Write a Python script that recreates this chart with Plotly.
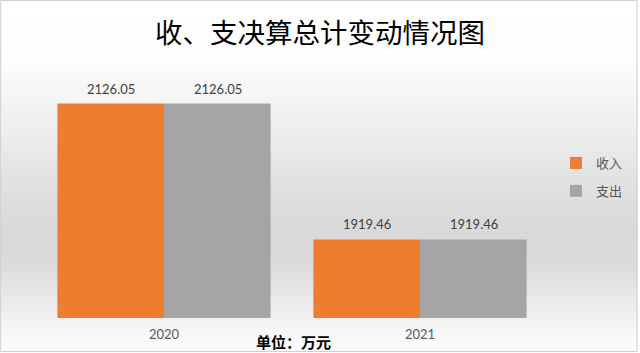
import plotly.graph_objects as go

categories = ["2020", "2021"]
series_names = ["收入", "支出"]
income = [2126.05, 1919.46]
expense = [2126.05, 1919.46]
colors = ["#ED7D31", "#A5A5A5"]

W, H = 640, 353
L, R, T, B = 36, 90, 55, 35
pw, ph = W - L - R, H - T - B

def px_to_paper_x(px):
    return (px - L) / pw

def px_to_paper_y(py):
    return (H - B - py) / ph

fig = go.Figure()
for name, vals, c in zip(series_names, [income, expense], colors):
    fig.add_trace(go.Bar(
        x=categories, y=vals, name=name, marker=dict(color=c, line=dict(width=0)),
        legendgroup=name,
    ))

# data labels
annotations = []
for i, (vals) in enumerate([income, expense]):
    for j, v in enumerate(vals):
        annotations.append(dict(
            x=j, y=v, xref="x", yref="y",
            xshift=(-53.5 if i == 0 else 53.5), yshift=15,
            text=f"{v:.2f}", showarrow=False,
            font=dict(family="Lato, Carlito, sans-serif", size=13, color="#404040"),
        ))

annotations.append(dict(
    x=px_to_paper_x(295), y=px_to_paper_y(341), xref="paper", yref="paper",
    text="<b>单位：万元</b>", showarrow=False, xanchor="center", yanchor="middle",
    font=dict(family="Noto Sans CJK SC", size=15, color="#000000"),
))

# background gradient bands
stops = [(0, 255), (60, 253), (120, 240), (180, 226), (230, 217), (265, 219), (300, 234), (335, 248), (353, 252)]

def gray_at(y):
    for (y0, g0), (y1, g1) in zip(stops, stops[1:]):
        if y0 <= y <= y1:
            t = (y - y0) / (y1 - y0) if y1 > y0 else 0
            return g0 + (g1 - g0) * t
    return stops[-1][1]

shapes = []
step = 4
for y in range(0, H, step):
    g = int(round(gray_at(y + step / 2)))
    shapes.append(dict(
        type="rect", xref="paper", yref="paper", layer="below",
        x0=px_to_paper_x(0), x1=px_to_paper_x(W),
        y0=px_to_paper_y(min(y + step, H)), y1=px_to_paper_y(y),
        fillcolor=f"rgb({g},{g},{g})", line=dict(width=0),
    ))
shapes.append(dict(
    type="rect", xref="paper", yref="paper", layer="above",
    x0=px_to_paper_x(0.5), x1=px_to_paper_x(W - 0.5),
    y0=px_to_paper_y(H - 1.5), y1=px_to_paper_y(0.5),
    line=dict(color="#D0D0D0", width=1), fillcolor="rgba(0,0,0,0)",
))

fig.update_layout(
    width=W, height=H,
    margin=dict(l=L, r=R, t=T, b=B, pad=0),
    paper_bgcolor="white", plot_bgcolor="rgba(0,0,0,0)",
    barmode="group", bargap=0.167, bargroupgap=0,
    title=dict(
        text="收、支决算总计变动情况图", x=0.5, xref="container", xanchor="center",
        y=1 - 33 / H, yref="container", yanchor="middle",
        font=dict(family="Noto Sans CJK SC", size=27.5, color="#000000"),
    ),
    xaxis=dict(
        type="category", range=[-0.5, len(categories) - 0.5], autorange=False,
        showgrid=False, zeroline=False, showline=False, ticks="",
        tickfont=dict(family="Lato, Carlito, sans-serif", size=13, color="#595959"),
        ticklabelstandoff=7,
    ),
    yaxis=dict(range=[1800, 2200], autorange=False, visible=False),
    legend=dict(
        x=px_to_paper_x(558), y=px_to_paper_y(177), xanchor="left", yanchor="middle",
        xref="paper", yref="paper",
        bgcolor="rgba(0,0,0,0)", itemwidth=30, tracegroupgap=8,
        font=dict(family="Noto Sans CJK SC", size=13, color="#595959"),
    ),
    annotations=annotations,
    shapes=shapes,
)

fig.write_html("out.html")
